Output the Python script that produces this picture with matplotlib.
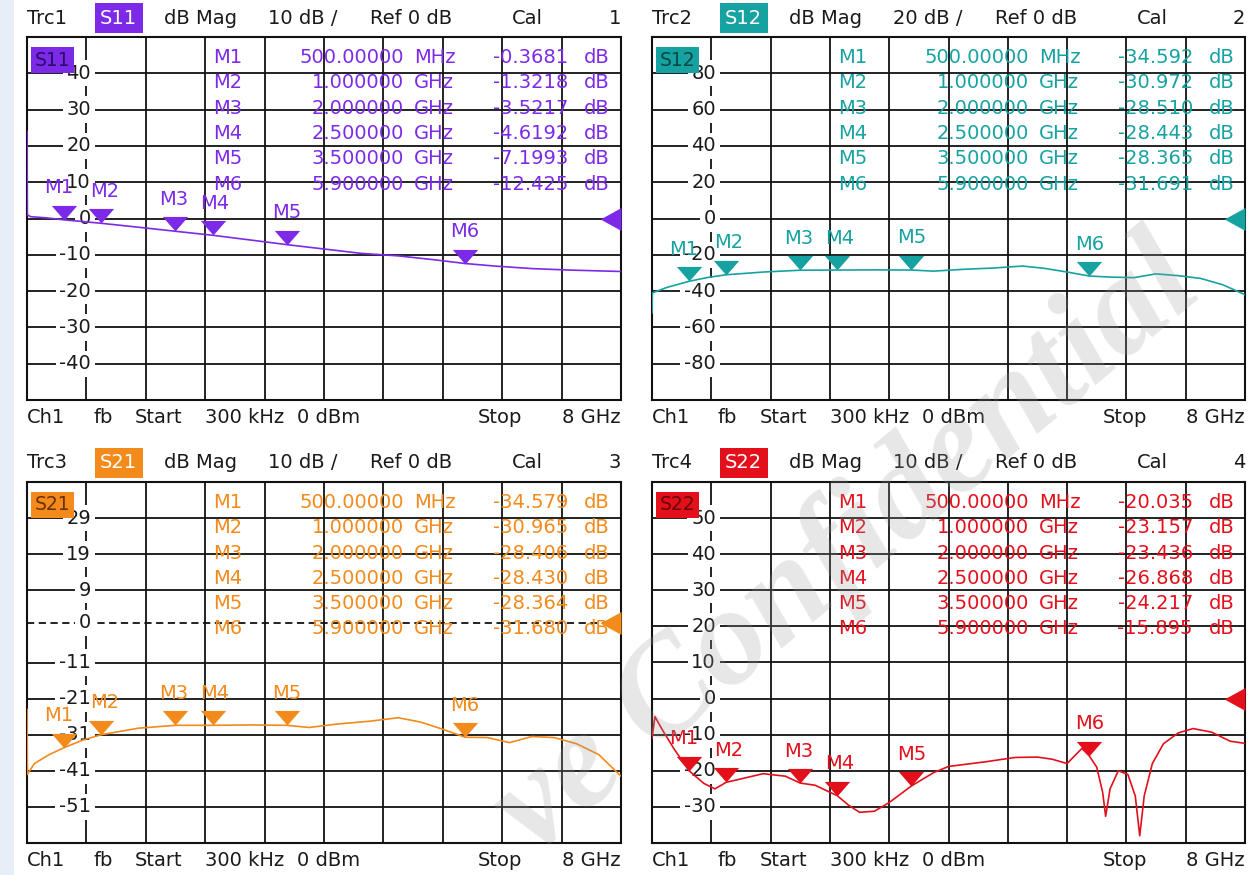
import matplotlib
matplotlib.use('Agg')
import matplotlib.pyplot as plt
from matplotlib.path import Path
from matplotlib.patches import Rectangle

plt.rcParams['font.family'] = ['DejaVu Sans']

# ---------------- data ----------------
f_start, f_stop = 0.0003, 8.0          # GHz
marker_names = ['M1', 'M2', 'M3', 'M4', 'M5', 'M6']
marker_freqs = [0.5, 1.0, 2.0, 2.5, 3.5, 5.9]   # GHz

s11_f = [0.0003, 0.005, 0.05, 0.25, 0.5, 1.0, 1.5, 2.0, 2.5, 3.0, 3.5, 4.0, 4.5,
         5.0, 5.5, 5.9, 6.3, 6.8, 7.3, 8.0]
s11_db = [24, 1.0, 0.5, 0.2, -0.37, -1.32, -2.4, -3.52, -4.62, -5.9, -7.2, -8.4, -9.6,
          -10.3, -11.4, -12.4, -13.1, -13.8, -14.2, -14.6]
s11_markers = [-0.3681, -1.3218, -3.5217, -4.6192, -7.1993, -12.425]

s12_f = [0.0003, 0.005, 0.2, 0.5, 0.75, 1.0, 1.5, 2.0, 2.5, 3.0, 3.5, 3.8, 4.2, 4.6,
         5.0, 5.3, 5.6, 5.9, 6.2, 6.5, 6.8, 7.1, 7.4, 7.7, 8.0]
s12_db = [-52, -41, -38, -34.6, -32.5, -31.0, -29.5, -28.5, -28.4, -28.3, -28.4, -29.0,
          -28.0, -27.3, -26.2, -27.5, -29.5, -31.7, -32.3, -32.6, -30.5, -31.5, -33.0,
          -36.5, -42]
s12_markers = [-34.592, -30.972, -28.510, -28.443, -28.365, -31.691]

s21_f = [0.0003, 0.005, 0.1, 0.3, 0.5, 0.75, 1.0, 1.5, 2.0, 2.5, 3.0, 3.5, 3.8, 4.2, 4.6,
         5.0, 5.3, 5.6, 5.9, 6.2, 6.5, 6.8, 7.1, 7.4, 7.7, 8.0]
s21_db = [-24, -42, -39, -36.5, -34.6, -32.5, -31.0, -29.2, -28.4, -28.4, -28.3, -28.4,
          -29.0, -28.0, -27.3, -26.3, -27.5, -29.5, -31.7, -31.8, -33.2, -31.5, -31.8,
          -33.5, -36.5, -42.5]
s21_markers = [-34.579, -30.965, -28.406, -28.430, -28.364, -31.680]

s22_f = [0.0003, 0.04, 0.15, 0.3, 0.5, 0.7, 0.85, 1.0, 1.25, 1.5, 1.8, 2.0, 2.2, 2.5,
         2.65, 2.8, 3.0, 3.2, 3.5, 3.8, 4.0, 4.5, 4.9, 5.2, 5.4, 5.6, 5.8, 5.9, 6.0,
         6.08, 6.12, 6.18, 6.29, 6.42, 6.52, 6.58, 6.64, 6.75, 6.9, 7.1, 7.3, 7.55,
         7.8, 8.0]
s22_db = [-11, -5, -9, -14, -20.0, -23.5, -25.0, -23.2, -22.0, -20.8, -21.5, -23.4,
          -24.0, -26.9, -29.5, -31.5, -31.2, -28.8, -24.2, -20.5, -18.8, -17.5, -16.3,
          -16.2, -16.8, -18.0, -13.8, -15.9, -19.0, -26, -32.6, -25, -20, -21, -27,
          -38, -27, -18, -12.5, -9.5, -8.3, -9.3, -11.8, -12.4]
s22_markers = [-20.035, -23.157, -23.436, -26.868, -24.217, -15.895]

panels = [
    dict(trc='Trc1', par='S11', scale='10 dB /', num='1', color='#7d2ae8', dark='#2a0d66',
         f=s11_f, db=s11_db, mk=s11_markers, ylim=(-50, 50),
         grid=[40, 30, 20, 10, 0, -10, -20, -30, -40],
         labels=[40, 30, 20, 10, 0, -10, -20, -30, -40], dashed=None,
         box=(27, 37, 621, 400)),
    dict(trc='Trc2', par='S12', scale='20 dB /', num='2', color='#17a2a2', dark='#084545',
         f=s12_f, db=s12_db, mk=s12_markers, ylim=(-100, 100),
         grid=[80, 60, 40, 20, 0, -20, -40, -60, -80],
         labels=[80, 60, 40, 20, 0, -20, -40, -60, -80], dashed=None,
         box=(652, 37, 1245, 400)),
    dict(trc='Trc3', par='S21', scale='10 dB /', num='3', color='#f28a1c', dark='#6b3000',
         f=s21_f, db=s21_db, mk=s21_markers, ylim=(-61, 39),
         grid=[29, 19, 9, -11, -21, -31, -41, -51],
         labels=[29, 19, 9, 0, -11, -21, -31, -41, -51], dashed=0,
         box=(27, 482, 621, 843)),
    dict(trc='Trc4', par='S22', scale='10 dB /', num='4', color='#e3101c', dark='#6a0008',
         f=s22_f, db=s22_db, mk=s22_markers, ylim=(-40, 60),
         grid=[50, 40, 30, 20, 10, 0, -10, -20, -30],
         labels=[50, 40, 30, 20, 10, 0, -10, -20, -30], dashed=None,
         box=(652, 482, 1245, 843)),
]

label_dx = [-5, 3, -2, 2, 0, 0]

W, H = 1255, 875
fig = plt.figure(figsize=(W / 100, H / 100), dpi=100)
fig.patch.set_facecolor('white')
fig.patches.append(Rectangle((0, 0), 14 / W, 1, transform=fig.transFigure,
                             facecolor='#e8eef7', edgecolor='none', zorder=0))


def ftxt(x, y, s, **kw):
    kw.setdefault('va', 'center')
    kw.setdefault('fontsize', 14)
    kw.setdefault('color', '#1a1a1a')
    return fig.text(x / W, 1 - y / H, s, **kw)


def fmt_freq(f):
    if f < 1:
        return '%.5f' % (f * 1000), 'MHz'
    return '%.6f' % f, 'GHz'


def fmt_val(v):
    return ('%.4f' % v) if abs(v) < 10 else ('%.3f' % v)


tri_down = Path([(-1, 1.15), (1, 1.15), (0, 0), (-1, 1.15)],
                [Path.MOVETO, Path.LINETO, Path.LINETO, Path.CLOSEPOLY])
tri_left = Path([(0, 0.55), (0, -0.55), (-1, 0), (0, 0.55)],
                [Path.MOVETO, Path.LINETO, Path.LINETO, Path.CLOSEPOLY])

for p in panels:
    x0, y0, x1, y1 = p['box']
    c = p['color']
    ax = fig.add_axes([x0 / W, 1 - y1 / H, (x1 - x0) / W, (y1 - y0) / H])
    ax.set_xlim(f_start, f_stop)
    ax.set_ylim(*p['ylim'])
    ax.set_xticks([f_start + k * (f_stop - f_start) / 10 for k in range(1, 10)])
    ax.set_yticks(p['grid'])
    ax.tick_params(length=0, labelleft=False, labelbottom=False)
    ax.grid(True, color='#111111', linewidth=1.3)
    ax.set_axisbelow(True)
    for s in ax.spines.values():
        s.set_color('#111111')
        s.set_linewidth(1.5)
    if p['dashed'] is not None:
        ax.axhline(p['dashed'], color='#111111', linewidth=1.3,
                   linestyle=(0, (4, 2.5)), zorder=1)

    # y labels inside the grid
    xl = (91 - 27) / 594
    for v in p['labels']:
        ax.text(xl, v, str(v), transform=ax.get_yaxis_transform(), ha='right',
                va='center', fontsize=14, color='#1a1a1a', zorder=2,
                bbox=dict(facecolor='white', edgecolor='none', pad=2.6))

    # inner trace label
    ax.text(8 / 594, 1 - 23 / 363, p['par'], transform=ax.transAxes, ha='left',
            va='center', fontsize=13.5, color=p['dark'], zorder=6,
            bbox=dict(boxstyle='square,pad=0.2', facecolor=c, edgecolor='none'))

    # trace
    ax.plot(p['f'], p['db'], color=c, linewidth=1.2, zorder=4)

    # markers
    ax.plot(marker_freqs, p['mk'], linestyle='none', marker=tri_down, markersize=21,
            color=c, markeredgewidth=0, zorder=5, clip_on=False)
    for i, (name, f, v) in enumerate(zip(marker_names, marker_freqs, p['mk'])):
        ax.annotate(name, (f, v), xytext=(label_dx[i], 32), textcoords='offset pixels',
                    ha='center', va='center', fontsize=14, color=c, zorder=6)

    # reference level arrow
    ax.plot([f_stop], [0], linestyle='none', marker=tri_left, markersize=30,
            color=c, markeredgewidth=0, zorder=5, clip_on=False)

    # marker table
    for i, (name, f, v) in enumerate(zip(marker_names, marker_freqs, p['mk'])):
        ty = y0 + 20.5 + 25.3 * i
        num, unit = fmt_freq(f)
        ftxt(x0 + 186, ty, name, color=c, fontsize=14, zorder=7)
        ftxt(x0 + 377, ty, num, color=c, fontsize=14, ha='right', zorder=7)
        ftxt(x0 + 387, ty, unit, color=c, fontsize=14, ha='left', zorder=7)
        ftxt(x0 + 541, ty, fmt_val(v), color=c, fontsize=14, ha='right', zorder=7)
        ftxt(x0 + 583, ty, 'dB', color=c, fontsize=14, ha='right', zorder=7)

    # header line
    hy = y0 - 19
    ftxt(x0, hy, p['trc'])
    ftxt(x0 + 73, hy, p['par'], color='white',
         bbox=dict(boxstyle='square,pad=0.28', facecolor=c, edgecolor='none'))
    ftxt(x0 + 137, hy, 'dB Mag')
    ftxt(x0 + 241, hy, p['scale'])
    ftxt(x0 + 343, hy, 'Ref 0 dB')
    ftxt(x0 + 485, hy, 'Cal')
    ftxt(x1, hy, p['num'], ha='right')

    # footer line
    by = y1 + 17
    ftxt(x0, by, 'Ch1')
    ftxt(x0 + 66, by, 'fb')
    ftxt(x0 + 108, by, 'Start')
    ftxt(x0 + 178, by, '300 kHz')
    ftxt(x0 + 270, by, '0 dBm')
    ftxt(x0 + 451, by, 'Stop')
    ftxt(x1, by, '8 GHz', ha='right')

# watermark
fig.text(848 / W, 1 - 548 / H, 've Confidential', rotation=40, rotation_mode='anchor',
         ha='center', va='center', fontsize=100, family='Liberation Serif',
         weight='bold', style='italic', color='#9a9a9a', alpha=0.24, zorder=100)

fig.savefig('out.png', dpi=100, facecolor='white')
